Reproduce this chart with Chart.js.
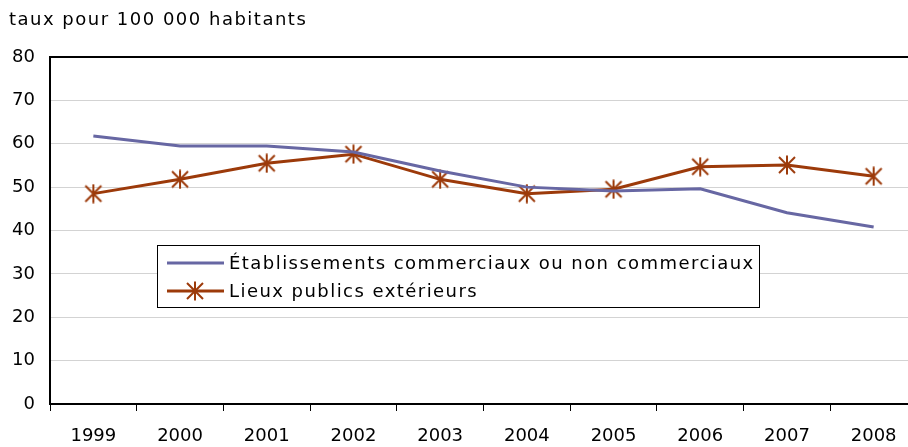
<!DOCTYPE html>
<html>
<head>
<meta charset="utf-8">
<script src="https://cdn.jsdelivr.net/npm/chart.js@4"></script>
<style>
  html, body { margin: 0; padding: 0; background: #fff; overflow: hidden; }
  #chart { display: block; }
</style>
</head>
<body>
<!-- a bit wider than the window: the plot runs past the right edge, as in the original -->
<canvas id="chart" width="917" height="447"></canvas>
<script>
// Data
const years = ['1999', '2000', '2001', '2002', '2003', '2004', '2005', '2006', '2007', '2008'];
const commerciaux = [61.8, 59.5, 59.5, 58.1, 53.7, 50.0, 49.1, 49.6, 44.1, 40.8];
const lieuxPublics = [48.5, 51.8, 55.5, 57.6, 51.8, 48.5, 49.5, 54.7, 55.1, 52.5];
const yTicks = [0, 10, 20, 30, 40, 50, 60, 70, 80];

const seriesNames = [
  'Établissements commerciaux ou non commerciaux',
  'Lieux publics extérieurs',
];

const colors = {
  blue: '#6767a3',
  rust: '#9c3a0a',
  grid: '#d3d3d3',
  axis: '#000000',
  text: '#000000',
};

const FONT = '"DejaVu Sans", Verdana, sans-serif';

// Asterisk marker: an X plus a vertical stroke, like the spreadsheet marker
function makeStar(size, color) {
  const c = document.createElement('canvas');
  c.width = size; c.height = size;
  const g = c.getContext('2d');
  const m = size / 2, r = size / 2 - 2;
  g.strokeStyle = color;
  g.lineWidth = 2;
  g.beginPath();
  g.moveTo(m - r, m - r); g.lineTo(m + r, m + r);
  g.moveTo(m + r, m - r); g.lineTo(m - r, m + r);
  g.moveTo(m, m - r - 1.5); g.lineTo(m, m + r + 1.5);
  g.stroke();
  return c;
}
const starMarker = makeStar(20, colors.rust);

// Title above the plot and the boxed legend inside it
const decorations = {
  id: 'decorations',
  afterDraw(chart) {
    const ctx = chart.ctx;
    ctx.save();
    ctx.fillStyle = colors.text;
    ctx.font = '18px ' + FONT;
    ctx.letterSpacing = '1.5px';
    ctx.textBaseline = 'middle';
    ctx.textAlign = 'left';
    ctx.fillText('taux pour 100 000 habitants', 9, 20);

    // legend
    const bx = 157.5, by = 245.5, bw = 602, bh = 62;
    ctx.fillStyle = '#fff';
    ctx.fillRect(bx, by, bw, bh);
    ctx.strokeStyle = '#000';
    ctx.lineWidth = 1;
    ctx.strokeRect(bx, by, bw, bh);

    const rows = [
      { y: 263, color: colors.blue, star: false },
      { y: 291, color: colors.rust, star: true },
    ];
    ctx.font = '18px ' + FONT;
    ctx.letterSpacing = '1.45px';
    rows.forEach((row, i) => {
      ctx.strokeStyle = row.color;
      ctx.lineWidth = 3;
      ctx.beginPath();
      ctx.moveTo(167, row.y);
      ctx.lineTo(224, row.y);
      ctx.stroke();
      if (row.star) ctx.drawImage(starMarker, 195 - 10, row.y - 10);
      ctx.fillStyle = colors.text;
      ctx.fillText(seriesNames[i], 229, row.y + 1);
    });
    ctx.restore();
  },
};

new Chart(document.getElementById('chart'), {
  type: 'line',
  data: {
    labels: years,
    datasets: [
      {
        label: seriesNames[0],
        data: commerciaux,
        borderColor: colors.blue,
        borderWidth: 3,
        pointRadius: 0,
        tension: 0,
      },
      {
        label: seriesNames[1],
        data: lieuxPublics,
        borderColor: colors.rust,
        borderWidth: 3,
        pointStyle: starMarker,
        pointRadius: 9,
        tension: 0,
      },
    ],
  },
  options: {
    responsive: false,
    animation: false,
    events: [],
    layout: { autoPadding: false, padding: { top: 57, right: 0, left: 0, bottom: 0 } },
    plugins: {
      legend: { display: false },
      title: { display: false },
      tooltip: { enabled: false },
    },
    scales: {
      x: {
        offset: true,
        grid: {
          offset: true,
          drawOnChartArea: false,
          drawTicks: true,
          tickLength: 7,
          tickColor: colors.axis,
          lineWidth: 1,
        },
        border: { color: colors.axis, width: 2 },
        ticks: {
          color: colors.text,
          font: { family: FONT, size: 18 },
          padding: 15,
          maxRotation: 0,
          autoSkip: false,
        },
        afterFit(scale) {
          scale.height = 43;
          scale.paddingLeft = 0;
          scale.paddingRight = 0;
        },
      },
      y: {
        min: 0,
        max: 80,
        afterBuildTicks(scale) { scale.ticks = yTicks.map(v => ({ value: v })); },
        grid: {
          drawTicks: false,
          color: ctx => (ctx.tick && ctx.tick.value === 80 ? colors.axis : colors.grid),
          lineWidth: ctx => (ctx.tick && ctx.tick.value === 80 ? 2 : 1),
        },
        border: { color: colors.axis, width: 2 },
        ticks: {
          color: colors.text,
          font: { family: FONT, size: 18 },
          padding: 15,
        },
        afterFit(scale) { scale.width = 50; },
      },
    },
  },
  plugins: [decorations],
});
</script>
</body>
</html>
